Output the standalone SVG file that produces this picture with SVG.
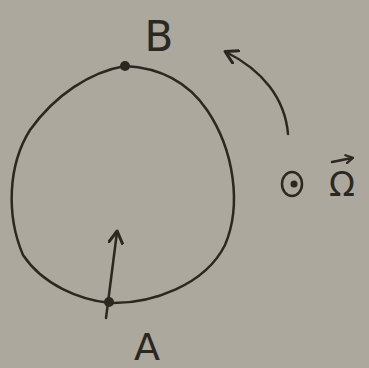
<svg xmlns="http://www.w3.org/2000/svg" width="369" height="368" viewBox="0 0 369 368">
<defs>
<marker id="ah" markerWidth="16" markerHeight="16" refX="12" refY="8" orient="auto" markerUnits="userSpaceOnUse">
<path d="M1,1 L13,8 L1,15" fill="none" stroke="#2b2822" stroke-width="3" stroke-linecap="round" stroke-linejoin="round"/>
</marker>
<marker id="ahs" markerWidth="10" markerHeight="10" refX="7" refY="5" orient="auto" markerUnits="userSpaceOnUse">
<path d="M1,1 L8,5 L1,9" fill="none" stroke="#2b2822" stroke-width="2.2" stroke-linecap="round" stroke-linejoin="round"/>
</marker>
<style>
.ln{fill:none;stroke:#2b2822;stroke-width:2.5;stroke-linecap:round;stroke-linejoin:round}
.lbl{font-family:"DejaVu Sans","Liberation Sans",sans-serif;fill:#2b2822}
</style>
</defs>
<rect width="369" height="368" fill="#aca89d"/>
<g id="orbit">
<path class="ln" d="M110,303 C152,304 205,285 225,245 C242,205 234,150 207,110 C190,85 165,68 125,66 C90,72 55,95 30,130 C8,165 6,215 23,255 C43,285 80,300 110,303 Z"/>
</g>
<g id="B">
<circle cx="125" cy="66" r="5" fill="#2b2822"/>
<text class="lbl" x="159" y="51" font-size="42" text-anchor="middle">B</text>
</g>
<g id="A">
<circle cx="109" cy="302" r="5" fill="#2b2822"/>
<text class="lbl" x="147" y="360" font-size="38" text-anchor="middle">A</text>
</g>
<g id="omega">
<ellipse cx="292" cy="184" rx="10" ry="12" class="ln" stroke-width="3"/>
<circle cx="294" cy="184" r="3.5" fill="#2b2822"/>
<text class="lbl" x="342" y="196" font-size="34" text-anchor="middle">Ω</text>
<path class="ln" d="M332,162 L352,158" stroke-width="2.2" marker-end="url(#ahs)"/>
</g>
<g id="connectors">
<path class="ln" d="M106,318 L117,232" marker-end="url(#ah)"/>
<path class="ln" d="M288,134 C285,98 262,70 226,52" marker-end="url(#ah)"/>
</g>
</svg>
